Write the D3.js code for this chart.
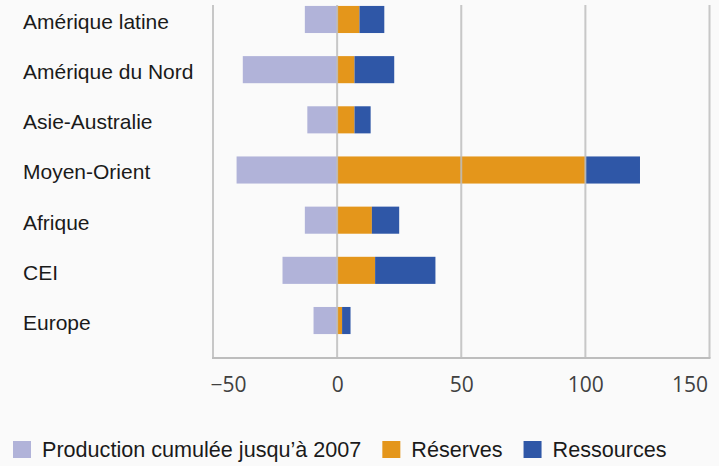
<!DOCTYPE html>
<html>
<head>
<meta charset="utf-8">
<script src="https://cdn.jsdelivr.net/npm/d3@7"></script>
<style>
  body { margin: 0; background: #fafafa; }
  svg { display: block; }
</style>
</head>
<body>
<div id="chart"></div>
<script>
(function() {
    "use strict";

    var categories = ["Amérique latine", "Amérique du Nord", "Asie-Australie",
        "Moyen-Orient", "Afrique", "CEI", "Europe"];
    var production = [13, 38, 12, 40.5, 13, 22, 9.5];
    var reserves = [9, 7, 7, 100, 14, 15.3, 2];
    var ressources = [10, 16, 6.5, 22, 11, 24.3, 3.4];
    var xTicks = [-50, 0, 50, 100, 150];
    var seriesNames = ["Production cumulée jusqu’à 2007", "Réserves", "Ressources"];
    var colors = ["#b1b3d9", "#e4961b", "#2f57a7"];

    var width = 719, height = 466;
    var svg = d3.select("#chart").append("svg")
        .attr("width", width).attr("height", height);

    var x = d3.scaleLinear().domain([-50, 150]).range([213, 709.5]);
    var y = d3.scaleBand().domain(categories)
        .range([-5.6, 345.6]).paddingInner(0.46).paddingOuter(0.23);
    var axisY = 358, gridTop = 5;

    var rows = categories.map(function(c, i) {
        return { cat: c, prod: production[i], res: reserves[i], ress: ressources[i] };
    });
    var stacked = d3.stack().keys(["res", "ress"])(rows);

    // production, drawn to the left of zero
    svg.append("g").selectAll("rect").data(rows).enter().append("rect")
        .attr("x", function(d) { return x(-d.prod); })
        .attr("y", function(d) { return y(d.cat); })
        .attr("width", function(d) { return x(0) - x(-d.prod); })
        .attr("height", y.bandwidth())
        .attr("fill", colors[0]);

    stacked.forEach(function(s, k) {
        svg.append("g").selectAll("rect").data(s).enter().append("rect")
            .attr("x", function(d) { return x(d[0]); })
            .attr("y", function(d) { return y(d.data.cat); })
            .attr("width", function(d) { return x(d[1]) - x(d[0]); })
            .attr("height", y.bandwidth())
            .attr("fill", colors[k + 1]);
    });

    // grid lines sit over the bars
    svg.append("g").selectAll("line").data(xTicks).enter().append("line")
        .attr("x1", function(d) { return x(d); })
        .attr("x2", function(d) { return x(d); })
        .attr("y1", gridTop).attr("y2", axisY)
        .attr("stroke", "#bdbdbd").attr("stroke-width", 2)
        .attr("stroke-opacity", 0.85);
    svg.append("line")
        .attr("x1", x(-50) - 1).attr("x2", x(150) + 1)
        .attr("y1", axisY).attr("y2", axisY)
        .attr("stroke", "#bdbdbd").attr("stroke-width", 2);

    var xAxis = svg.append("g")
        .attr("transform", "translate(0," + axisY + ")")
        .call(d3.axisBottom(x).tickValues(xTicks).tickSize(0).tickPadding(0));
    xAxis.select(".domain").remove();
    xAxis.selectAll("text")
        .attr("y", 27).attr("dy", "0.35em")
        .attr("fill", "#404040")
        .style("font-family", "'Open Sans', sans-serif")
        .style("font-size", "21px");
    xAxis.selectAll("text").filter(function(d) { return d === -50; })
        .attr("text-anchor", "start").attr("x", -3);
    xAxis.selectAll("text").filter(function(d) { return d === 150; })
        .attr("text-anchor", "end").attr("x", -2);

    // category labels
    svg.append("g").selectAll("text").data(categories).enter().append("text")
        .attr("x", 23)
        .attr("y", function(d) { return y(d) + y.bandwidth() / 2 + 2; })
        .attr("dy", "0.35em")
        .attr("fill", "#1a1a1a")
        .style("font-family", "'Liberation Sans', Arial, sans-serif")
        .style("font-size", "21px")
        .text(function(d) { return d; });

    // legend
    var legend = svg.append("g").attr("transform", "translate(13,441)");
    var lx = 0;
    seriesNames.forEach(function(name, i) {
        legend.append("rect").attr("x", lx).attr("y", 0)
            .attr("width", 18).attr("height", 17).attr("fill", colors[i]);
        var t = legend.append("text")
            .attr("x", lx + 29).attr("y", 16)
            .attr("fill", "#1a1a1a")
            .style("font-family", "'Liberation Sans', Arial, sans-serif")
            .style("font-size", "21.6px")
            .text(name);
        lx += 29 + t.node().getComputedTextLength() + 21;
    });
}());
</script>
</body>
</html>
